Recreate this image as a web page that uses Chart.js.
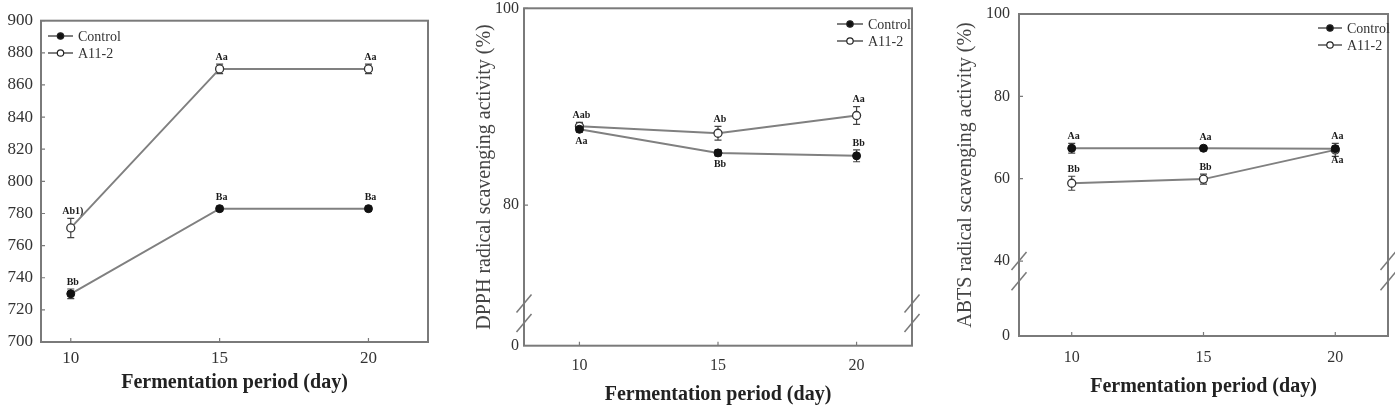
<!DOCTYPE html>
<html>
<head>
<meta charset="utf-8">
<script src="https://cdn.jsdelivr.net/npm/chart.js@4.4.0/dist/chart.umd.min.js"></script>
<style>
body{margin:0;background:#fff;}
#wrap{position:relative;width:1395px;height:407px;}
canvas{position:absolute;left:0;top:0;}
</style>
</head>
<body>
<div id="wrap">
<canvas id="c1" width="1395" height="407"></canvas>
<canvas id="c2" width="1395" height="407"></canvas>
<canvas id="c3" width="1395" height="407"></canvas>
</div>
<script>
const days = [10, 15, 20]
const seriesNames = ['Control', 'A11-2']
const xTitle = 'Fermentation period (day)'

// panel 1 (no y title)
const p1Control = [730, 783, 783]
const p1ControlErr = [3, 1.5, 1.5]
const p1A112 = [771, 870, 870]
const p1A112Err = [6, 3, 3]
const p1ControlLetters = ['Bb', 'Ba', 'Ba']
const p1A112Letters = ['Ab1)', 'Aa', 'Aa']
const p1YTicks = [700, 720, 740, 760, 780, 800, 820, 840, 860, 880, 900]
const p1YLabels = ['700', '720', '740', '760', '780', '800', '820', '840', '860', '880', '900']

// panel 2 - DPPH
const p2Control = [87.7, 85.3, 85.0]
const p2ControlErr = [0.3, 0.3, 0.6]
const p2A112 = [88.0, 87.3, 89.1]
const p2A112Err = [0.4, 0.7, 0.9]
const p2ControlLetters = ['Aa', 'Bb', 'Bb']
const p2A112Letters = ['Aab', 'Ab', 'Aa']
const p2YTicks = [65.7, 80, 100]
const p2YLabels = ['0', '80', '100']

// panel 3 - ABTS
const p3Control = [67.4, 67.4, 67.3]
const p3ControlErr = [1.2, 0.6, 0.6]
const p3A112 = [58.9, 59.9, 67.0]
const p3A112Err = [1.7, 1.2, 1.6]
const p3ControlLetters = ['Aa', 'Aa', 'Aa']
const p3A112Letters = ['Bb', 'Bb', 'Aa']
const p3YTicks = [21.8, 40, 60, 80, 100]
const p3YLabels = ['0', '40', '60', '80', '100']

const W = 1395, H = 407
const lineColor = '#808080'
const frameColor = '#7a7a7a'
const textColor = '#333'
const serif = '"Liberation Serif", "Times New Roman", serif'

const decor = {
  id: 'decor',
  beforeDatasetsDraw(chart, args, o) {
    const {ctx, chartArea: a, scales: {x, y}} = chart
    ctx.save()
    ctx.strokeStyle = frameColor
    ctx.lineWidth = 2
    ctx.strokeRect(a.left, a.top, a.right - a.left, a.bottom - a.top)
    // inward tick marks
    ctx.lineWidth = 1.2
    ctx.beginPath()
    x.ticks.forEach(t => {
      const px = x.getPixelForValue(t.value)
      ctx.moveTo(px, a.bottom); ctx.lineTo(px, a.bottom - 4)
    })
    y.ticks.forEach((t, i) => {
      if (i === 0) return
      const py = y.getPixelForValue(t.value)
      ctx.moveTo(a.left, py); ctx.lineTo(a.left + 4, py)
    })
    ctx.stroke()
    // error bars
    ctx.strokeStyle = '#444'
    ctx.lineWidth = 1.2
    chart.data.datasets.forEach(ds => {
      ds.data.forEach((p, i) => {
        const px = x.getPixelForValue(p.x)
        const t = y.getPixelForValue(p.y + ds.err[i])
        const b = y.getPixelForValue(p.y - ds.err[i])
        ctx.beginPath()
        ctx.moveTo(px, t); ctx.lineTo(px, b)
        ctx.moveTo(px - 3.5, t); ctx.lineTo(px + 3.5, t)
        ctx.moveTo(px - 3.5, b); ctx.lineTo(px + 3.5, b)
        ctx.stroke()
      })
    })
    ctx.restore()
  },
  afterDatasetsDraw(chart, args, o) {
    const {ctx, chartArea: a, scales: {x, y}} = chart
    ctx.save()
    // significance letters
    ctx.font = 'bold 10px ' + serif
    ctx.fillStyle = '#1a1a1a'
    ctx.textAlign = 'center'
    ctx.textBaseline = 'middle'
    chart.data.datasets.forEach((ds, di) => {
      ds.data.forEach((p, i) => {
        const px = x.getPixelForValue(p.x)
        const py = y.getPixelForValue(p.y)
        const e = Math.max(Math.abs(y.getPixelForValue(p.y + ds.err[i]) - py), 4)
        const dir = o.letterPos[di][i]
        ctx.fillText(ds.letters[i], px + 2, dir === 'up' ? py - e - 7 : py + e + 8)
      })
    })
    // axis break marks
    if (o.breaks) {
      ctx.strokeStyle = frameColor
      ctx.lineWidth = 1.5
      o.breaks.forEach(v => {
        const py = y.getPixelForValue(v)
        ;[a.left, a.right].forEach(ex => {
          ctx.beginPath()
          ctx.moveTo(ex - 7.5, py + 9); ctx.lineTo(ex + 7.5, py - 9)
          ctx.stroke()
        })
      })
    }
    // legend
    const lg = o.legend
    ctx.font = '14px ' + serif
    ctx.textAlign = 'left'
    chart.data.datasets.forEach((ds, di) => {
      const ly = lg.y + di * 17
      ctx.strokeStyle = '#555'
      ctx.lineWidth = 1.5
      ctx.beginPath(); ctx.moveTo(lg.x, ly); ctx.lineTo(lg.x + lg.len, ly); ctx.stroke()
      ctx.beginPath(); ctx.arc(lg.x + lg.len / 2, ly, 3.2, 0, Math.PI * 2)
      ctx.fillStyle = ds.pointBackgroundColor; ctx.fill()
      ctx.strokeStyle = '#222'; ctx.lineWidth = 1.2; ctx.stroke()
      ctx.fillStyle = textColor
      ctx.fillText(ds.label, lg.x + lg.len + 5, ly + 1)
    })
    ctx.restore()
  }
}

function makePanel(id, p) {
  const mk = (vals) => days.map((d, i) => ({x: d, y: vals[i]}))
  new Chart(document.getElementById(id), {
    type: 'line',
    data: {
      datasets: [
        {label: seriesNames[0], data: mk(p.control), err: p.controlErr, letters: p.controlLetters,
         borderColor: lineColor, borderWidth: 2, pointRadius: 4, pointBackgroundColor: '#111',
         pointBorderColor: '#111', pointBorderWidth: 1},
        {label: seriesNames[1], data: mk(p.a112), err: p.a112Err, letters: p.a112Letters,
         borderColor: lineColor, borderWidth: 2, pointRadius: 4, pointBackgroundColor: '#fff',
         pointBorderColor: '#333', pointBorderWidth: 1.3}
      ]
    },
    options: {
      responsive: false,
      animation: false,
      events: [],
      layout: {padding: {left: p.area.left - p.yW, top: p.area.top, right: W - p.area.right, bottom: H - p.area.bottom - p.xH}},
      plugins: {
        legend: {display: false},
        tooltip: {enabled: false},
        decor: {legend: p.legend, breaks: p.breaks, letterPos: p.letterPos}
      },
      scales: {
        x: {
          type: 'linear', min: p.xMin, max: p.xMax,
          afterBuildTicks: s => { s.ticks = days.map(v => ({value: v})) },
          afterFit: s => { s.height = p.xH; s.paddingLeft = 0; s.paddingRight = 0 },
          grid: {display: false, drawTicks: false},
          border: {display: false},
          ticks: {color: textColor, font: {family: serif, size: p.tickSize}, padding: p.xPad, maxRotation: 0},
          title: {display: true, text: xTitle, color: '#222', padding: 0,
                  font: {family: serif, size: 20, weight: 'bold'}}
        },
        y: {
          min: p.yTicks[0], max: p.yTicks[p.yTicks.length - 1],
          afterBuildTicks: s => { s.ticks = p.yTicks.map(v => ({value: v})) },
          afterFit: s => { s.width = p.yW; s.paddingTop = 0; s.paddingBottom = 0 },
          grid: {display: false, drawTicks: false},
          border: {display: false},
          ticks: {color: textColor, font: {family: serif, size: p.tickSize}, padding: p.yPad, autoSkip: false,
                  callback: (v) => p.yLabels[p.yTicks.indexOf(v)]},
          title: {display: !!p.yTitle, text: p.yTitle || '', color: '#444', padding: 0,
                  font: {family: serif, size: 20}}
        }
      }
    },
    plugins: [decor]
  })
}

makePanel('c1', {
  control: p1Control, controlErr: p1ControlErr, controlLetters: p1ControlLetters,
  a112: p1A112, a112Err: p1A112Err, a112Letters: p1A112Letters,
  yTicks: p1YTicks, yLabels: p1YLabels, xMin: 9, xMax: 22,
  area: {left: 41, top: 20.7, right: 428, bottom: 342}, yW: 41, xH: 53,
  tickSize: 17, xPad: 6, yPad: 8,
  legend: {x: 48, y: 36, len: 25},
  letterPos: [['up', 'up', 'up'], ['up', 'up', 'up']]
})

makePanel('c2', {
  control: p2Control, controlErr: p2ControlErr, controlLetters: p2ControlLetters,
  a112: p2A112, a112Err: p2A112Err, a112Letters: p2A112Letters,
  yTicks: p2YTicks, yLabels: p2YLabels, xMin: 8, xMax: 22,
  yTitle: 'DPPH radical scavenging activity (%)',
  area: {left: 524, top: 8.3, right: 912, bottom: 345.7}, yW: 51, xH: 61.3,
  tickSize: 16, xPad: 10, yPad: 5,
  legend: {x: 837, y: 24, len: 26},
  breaks: [70, 68],
  letterPos: [['down', 'down', 'up'], ['up', 'up', 'up']]
})

makePanel('c3', {
  control: p3Control, controlErr: p3ControlErr, controlLetters: p3ControlLetters,
  a112: p3A112, a112Err: p3A112Err, a112Letters: p3A112Letters,
  yTicks: p3YTicks, yLabels: p3YLabels, xMin: 8, xMax: 22,
  yTitle: 'ABTS radical scavenging activity (%)',
  area: {left: 1019, top: 14, right: 1388, bottom: 336}, yW: 65, xH: 62.7,
  tickSize: 16, xPad: 12, yPad: 9,
  legend: {x: 1318, y: 28, len: 24},
  breaks: [40, 35.1],
  letterPos: [['up', 'up', 'down'], ['up', 'up', 'up']]
})
</script>
</body>
</html>
